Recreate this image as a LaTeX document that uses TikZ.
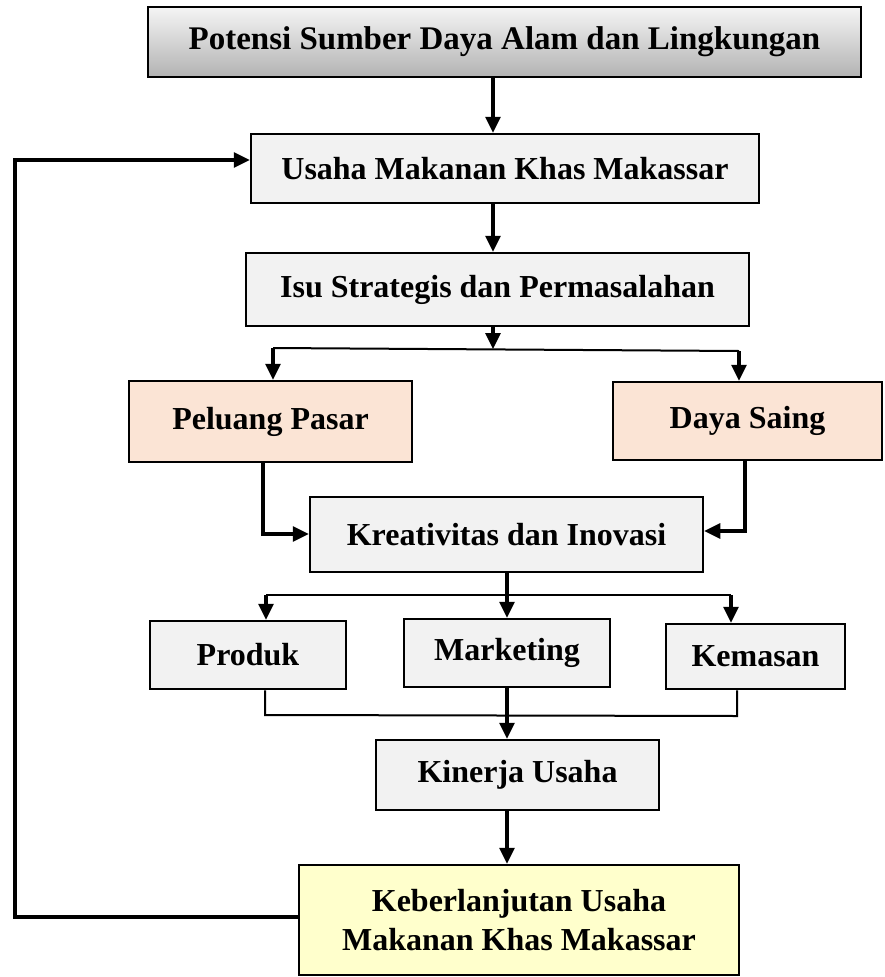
\documentclass[tikz,border=0pt]{standalone}
\usepackage{fontspec}
\setmainfont{Liberation Serif}
\usetikzlibrary{positioning}
\usetikzlibrary{arrows.meta}

\definecolor{boxgrey}{HTML}{F2F2F2}
\definecolor{boxpeach}{HTML}{FBE4D5}
\definecolor{boxyell}{HTML}{FFFFCC}

\begin{document}
\begin{tikzpicture}[x = 1pt, y = -1pt,
    box/.style = {shape = rectangle, draw = black, line width = 2.5pt, inner sep = 0pt, font = \bfseries\fontsize{32}{39}\selectfont, align = center},
    head/.style = {box, top color = gray!8, bottom color = gray!60, font = \bfseries\fontsize{33}{39}\selectfont},
    grey/.style = {box, fill = boxgrey},
    peach/.style = {box, fill = boxpeach},
    yell/.style = {box, fill = boxyell},
    arr/.style = {-{Triangle[length = 16pt, width = 15pt]}, line width = 3.2pt},
    link/.style = {line width = 2pt},
    ]
    \useasboundingbox (0,0) rectangle (885,977);

    \node[head, minimum width = 713pt, minimum height = 70pt] (pot) at (504.5,42) {Potensi Sumber Daya Alam dan Lingkungan};
    \node[grey, minimum width = 508pt, minimum height = 69pt] (usaha) at (505,168.5) {Usaha Makanan Khas Makassar};
    \node[grey, minimum width = 503pt, minimum height = 73pt] (isu) at (497.5,289.5) {Isu Strategis dan Permasalahan};
    \node[peach, minimum width = 283pt, minimum height = 81pt] (peluang) at (270.5,421.5) {Peluang Pasar};
    \node[peach, minimum width = 269pt, minimum height = 78pt] (daya) at (747.5,421) {Daya Saing};
    \node[grey, minimum width = 393pt, minimum height = 75pt] (kreat) at (506.5,534.5) {Kreativitas dan Inovasi};
    \node[grey, minimum width = 196pt, minimum height = 68pt] (produk) at (248,655) {Produk};
    \node[grey, minimum width = 206pt, minimum height = 68pt] (marketing) at (507,653) {Marketing};
    \node[grey, minimum width = 179pt, minimum height = 65pt] (kemasan) at (755.5,656.5) {Kemasan};
    \node[grey, minimum width = 283pt, minimum height = 70pt] (kinerja) at (517.5,775) {Kinerja Usaha};
    \node[yell, minimum width = 440pt, minimum height = 110pt] (keb) at (519,920) {Keberlanjutan Usaha\\Makanan Khas Makassar};

    \coordinate (c1) at (493,0);
    \coordinate (c2) at (507,0);
    \coordinate (fbtop) at (15,160);
    \coordinate (fbbot) at (15,917);
    \coordinate (b1l) at (273,348);
    \coordinate (b1m) at (493,349);
    \coordinate (b1r) at (739,351);
    \coordinate (b2l) at (266,595);
    \coordinate (b2r) at (731,595);
    \coordinate (j1) at (265,715);
    \coordinate (j2) at (737,716);
    \coordinate (pl) at (263,534);
    \coordinate (dr) at (745,531);

    % alur utama
    \draw[arr] (pot.south -| c1) -- (usaha.north -| c1);
    \draw[arr] (usaha.south -| c1) -- (isu.north -| c1);
    \draw[arr] (isu.south -| c1) -- (b1m);
    \draw[link] (b1l) -- (b1r);
    \draw[arr] (b1l) -- (peluang.north -| b1l);
    \draw[arr] (b1r) -- (daya.north -| b1r);
    \draw[arr] (peluang.south -| pl) -- (pl) -- (kreat.west |- pl);
    \draw[arr] (daya.south -| dr) -- (dr) -- (kreat.east |- dr);
    \draw[arr] (kreat.south -| c2) -- (marketing.north -| c2);
    \draw[link] (b2l) -- (b2r);
    \draw[arr] (b2l) -- (produk.north -| b2l);
    \draw[arr] (b2r) -- (kemasan.north -| b2r);
    \draw[link] (produk.south -| j1) -- (j1) -- (j2) -- (kemasan.south -| j2);
    \draw[arr] (marketing.south -| c2) -- (kinerja.north -| c2);
    \draw[arr] (kinerja.south -| c2) -- (keb.north -| c2);

    % umpan balik
    \draw[arr] (keb.west |- fbbot) -- (fbbot) -- (fbtop) -- (usaha.west |- fbtop);
\end{tikzpicture}
\end{document}
